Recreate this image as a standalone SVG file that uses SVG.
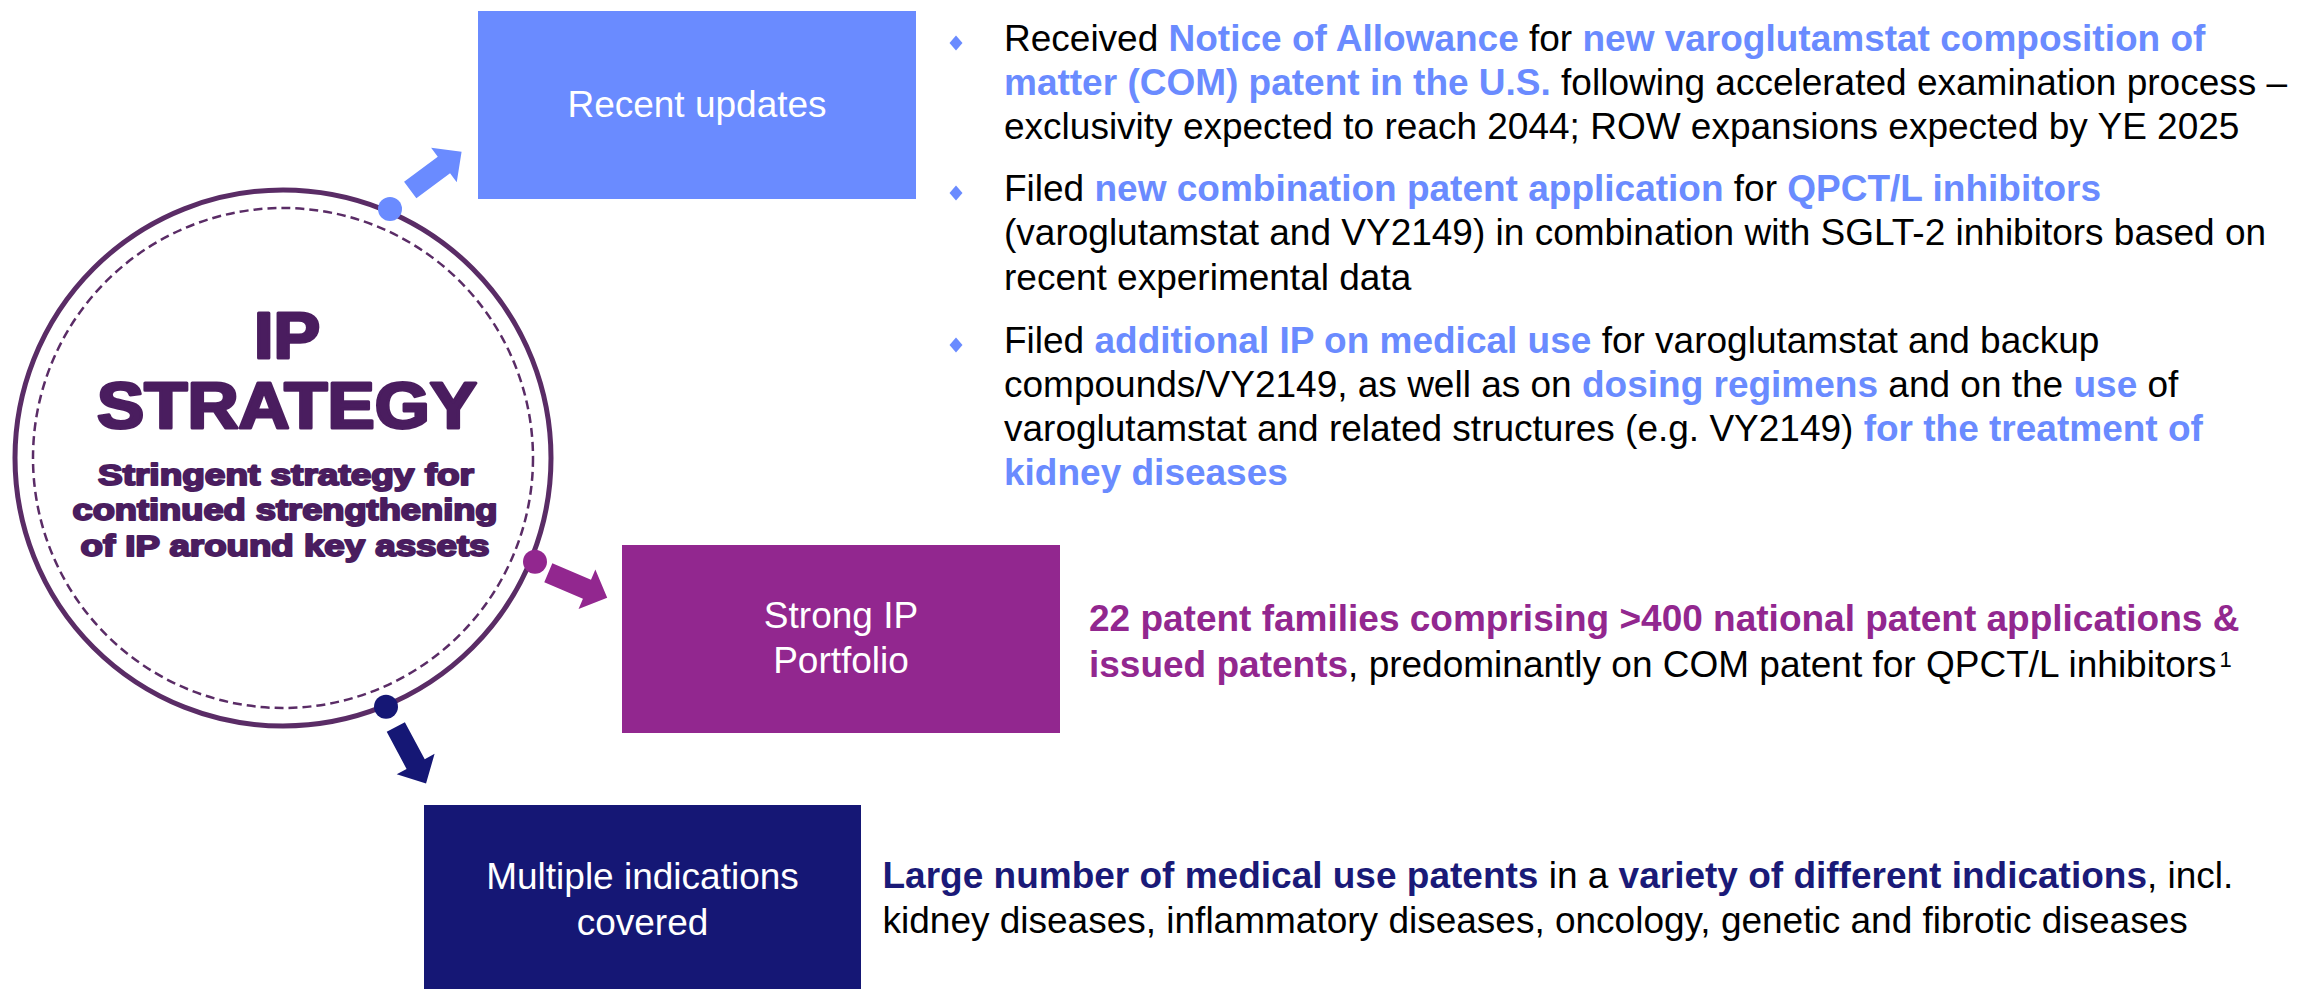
<svg xmlns="http://www.w3.org/2000/svg" xmlns:xlink="http://www.w3.org/1999/xlink" width="2305" height="989" viewBox="0 0 2305 989">
  <style>
    .body { font-family: "Liberation Sans", Arial, sans-serif; font-size: 37px; fill: #000000; }
    .hl-blue { font-weight: bold; fill: #6A8BFF; }
    .hl-purple { font-weight: bold; fill: #92278F; }
    .hl-navy { font-weight: bold; fill: #1A1A78; }
    .box-label { font-family: "Liberation Sans", Arial, sans-serif; font-size: 37px; fill: #FFFFFF; text-anchor: middle; }
    .title { font-family: "Liberation Sans", Arial, sans-serif; font-weight: bold; fill: #4A1D5F; stroke: #4A1D5F; stroke-linejoin: round; text-anchor: middle; }
    .bullet { fill: #6A8BFF; }
  </style>
  <defs>
    <!-- block arrow pointing along +x, base at origin -->
    <path id="blockArrow" d="M0,-10.3 L42,-10.3 L42,-21.5 L64,0 L42,21.5 L42,10.3 L0,10.3 Z"/>
    <path id="diamond" d="M0,-7.5 L6.5,0 L0,7.5 L-6.5,0 Z"/>
  </defs>

  <rect width="2305" height="989" fill="#FFFFFF"/>

  <!-- central IP strategy circle -->
  <g id="ip-strategy">
    <circle cx="283" cy="458" r="268" fill="#FFFFFF" stroke="#5A2C66" stroke-width="5"/>
    <circle cx="283" cy="458" r="250" fill="none" stroke="#5A2C66" stroke-width="2.5" stroke-dasharray="9 5"/>
    <text class="title" x="287" y="358" font-size="64" stroke-width="3" textLength="66" lengthAdjust="spacingAndGlyphs">IP</text>
    <text class="title" x="287" y="428" font-size="64" stroke-width="3" textLength="380" lengthAdjust="spacingAndGlyphs">STRATEGY</text>
    <text class="title" x="286" y="485" font-size="30" stroke-width="2" textLength="376" lengthAdjust="spacingAndGlyphs">Stringent strategy for</text>
    <text class="title" x="285" y="520" font-size="30" stroke-width="2" textLength="425" lengthAdjust="spacingAndGlyphs">continued strengthening</text>
    <text class="title" x="285" y="556" font-size="30" stroke-width="2" textLength="409" lengthAdjust="spacingAndGlyphs">of IP around key assets</text>
  </g>

  <!-- connectors: dots on the ring and block arrows to each box -->
  <g id="connectors">
    <circle cx="390" cy="209" r="12" fill="#6A8BFF"/>
    <use xlink:href="#blockArrow" transform="translate(410.2,190) rotate(-36.6)" fill="#6A8BFF"/>
    <circle cx="535" cy="561.7" r="12" fill="#92278F"/>
    <use xlink:href="#blockArrow" transform="translate(548.3,572.8) rotate(23)" fill="#92278F"/>
    <circle cx="386" cy="706.7" r="12" fill="#151775"/>
    <use xlink:href="#blockArrow" transform="translate(395.8,727) rotate(61.8)" fill="#151775"/>
  </g>

  <!-- Recent updates -->
  <g id="recent-updates">
    <rect x="478" y="11" width="438" height="188" fill="#6A8BFF"/>
    <text class="box-label" x="697" y="117">Recent updates</text>
    <g id="recent-updates-notes">
      <use xlink:href="#diamond" class="bullet" x="956" y="43"/>
      <text class="body" y="50.7">
        <tspan x="1004">Received </tspan><tspan class="hl-blue">Notice of Allowance</tspan><tspan> for </tspan><tspan class="hl-blue">new varoglutamstat composition of</tspan>
        <tspan x="1004" y="95"><tspan class="hl-blue">matter (COM) patent in the U.S.</tspan> following accelerated examination process –</tspan>
        <tspan x="1004" y="139.3">exclusivity expected to reach 2044; ROW expansions expected by YE 2025</tspan>
      </text>
      <use xlink:href="#diamond" class="bullet" x="956" y="193"/>
      <text class="body" y="201">
        <tspan x="1004">Filed </tspan><tspan class="hl-blue">new combination patent application</tspan><tspan> for </tspan><tspan class="hl-blue">QPCT/L inhibitors</tspan>
        <tspan x="1004" y="245.3">(varoglutamstat and VY2149) in combination with SGLT-2 inhibitors based on</tspan>
        <tspan x="1004" y="289.6">recent experimental data</tspan>
      </text>
      <use xlink:href="#diamond" class="bullet" x="956" y="345"/>
      <text class="body" y="352.5">
        <tspan x="1004">Filed </tspan><tspan class="hl-blue">additional IP on medical use</tspan><tspan> for varoglutamstat and backup</tspan>
        <tspan x="1004" y="396.8">compounds/VY2149, as well as on <tspan class="hl-blue">dosing regimens</tspan> and on the <tspan class="hl-blue">use</tspan> of</tspan>
        <tspan x="1004" y="441.1">varoglutamstat and related structures (e.g. VY2149) <tspan class="hl-blue">for the treatment of</tspan></tspan>
        <tspan x="1004" y="485.4" class="hl-blue">kidney diseases</tspan>
      </text>
    </g>
  </g>

  <!-- Strong IP Portfolio -->
  <g id="strong-ip-portfolio">
    <rect x="622" y="545" width="438" height="188" fill="#92278F"/>
    <text class="box-label" x="841" y="628">Strong IP</text>
    <text class="box-label" x="841" y="673">Portfolio</text>
    <text class="body" y="630.5">
      <tspan x="1089" class="hl-purple">22 patent families comprising &gt;400 national patent applications &amp;</tspan>
      <tspan x="1089" y="677"><tspan class="hl-purple">issued patents</tspan>, predominantly on COM patent for QPCT/L inhibitors<tspan font-size="22" dx="3" dy="-10">1</tspan></tspan>
    </text>
  </g>

  <!-- Multiple indications covered -->
  <g id="multiple-indications">
    <rect x="424" y="805" width="437" height="184" fill="#151775"/>
    <text class="box-label" x="642.5" y="889">Multiple indications</text>
    <text class="box-label" x="642.5" y="935">covered</text>
    <text class="body" y="887.7">
      <tspan x="882.5" class="hl-navy">Large number of medical use patents</tspan><tspan> in a </tspan><tspan class="hl-navy">variety of different indications</tspan><tspan>, incl.</tspan>
      <tspan x="882.5" y="933.3">kidney diseases, inflammatory diseases, oncology, genetic and fibrotic diseases</tspan>
    </text>
  </g>
</svg>
